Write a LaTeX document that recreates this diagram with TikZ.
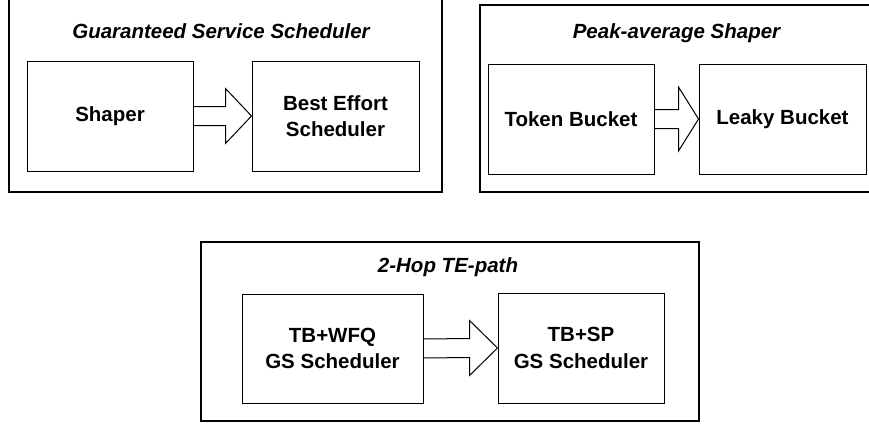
\documentclass[tikz,border=0pt]{standalone}
\usepackage{fontspec}
\setmainfont{Liberation Sans}
\usetikzlibrary{calc}
\tikzset{
  blk/.style={draw,line width=1pt,align=center,inner sep=0pt,
    font=\bfseries\fontsize{20.5}{26.5}\selectfont},
  outer/.style={draw,line width=1.2pt,inner sep=0pt},
  ttl/.style={font=\bfseries\itshape\fontsize{20.5}{26.5}\selectfont},
  fat/.style={line width=1pt,line join=miter}
}
\newcommand{\fatarrow}[4]{%
  \draw[fat] ($(#1.east)+(0,-9.5)$) -- ($(#2.west)+(-#3,-9.5)$) -- ($(#2.west)+(-#3,-#4)$)
    -- (#2.west) -- ($(#2.west)+(-#3,#4)$) -- ($(#2.west)+(-#3,9.5)$) -- ($(#1.east)+(0,9.5)$);}
\begin{document}
\begin{tikzpicture}[x=1pt,y=-1pt]
    \useasboundingbox (0,0) rectangle (869,423);
    \clip (0,0) rectangle (869,423);
    \node [outer,minimum width=433,minimum height=212] (gss) at (225.5,86) {};
    \node [outer,minimum width=420,minimum height=187] (pas) at (690,98.5) {};
    \node [outer,minimum width=498,minimum height=179] (hop) at (450,331.5) {};
    \node [ttl] (gssTitle) at (221,31) {Guaranteed Service Scheduler};
    \node [ttl] (pasTitle) at (676.5,33) {Peak-average Shaper};
    \node [ttl] (hopTitle) at (448,267) {2-Hop TE-path};
    \node [blk,minimum width=166,minimum height=110] (shaper) at (110,116) {Shaper};
    \node [blk,minimum width=167,minimum height=110] (beSched) at (335.5,116) {Best Effort\\Scheduler};
    \node [blk,minimum width=166,minimum height=110] (token) at (571,119) {Token Bucket};
    \node [blk,minimum width=167,minimum height=110] (leaky) at (782.5,119) {Leaky Bucket};
    \node [blk,minimum width=181,minimum height=109] (tbwfq) at (332.5,348.5) {TB+WFQ\\GS Scheduler};
    \node [blk,minimum width=166,minimum height=110] (tbsp) at (581,348) {TB+SP\\GS Scheduler};
    \fatarrow{shaper}{beSched}{26}{27.5}
    \fatarrow{token}{leaky}{20}{32}
    \fatarrow{tbwfq}{tbsp}{28}{27.5}
\end{tikzpicture}
\end{document}
